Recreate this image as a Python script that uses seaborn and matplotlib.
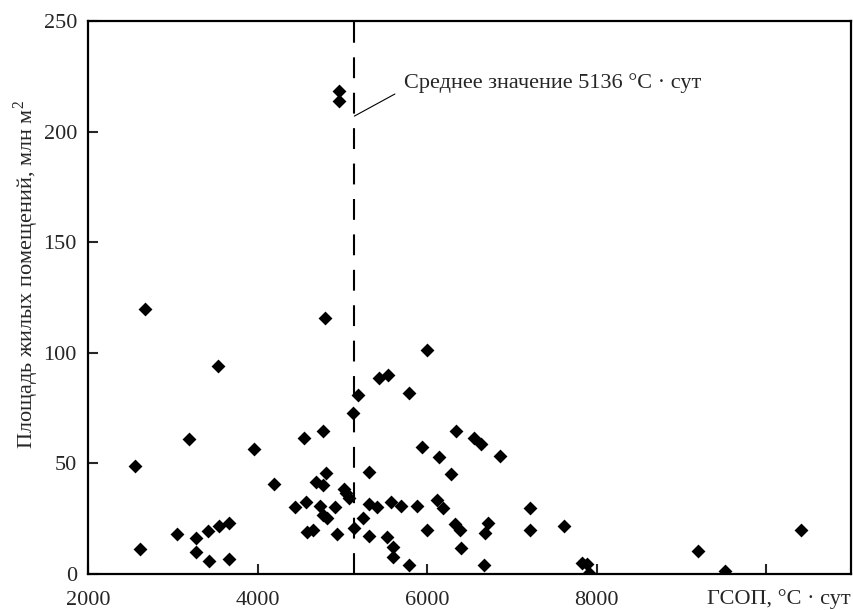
import numpy as np
import pandas as pd
import matplotlib
matplotlib.use('Agg')
import matplotlib.pyplot as plt
import seaborn as sns

# degree-days (x) vs residential floor area (y)
gsop = [2674, 4801, 5995, 3533, 5431, 5538, 5791, 5183, 5124, 6346,
        4774, 4545, 3197, 3962, 5936, 6141, 2552, 5318, 4805, 6287,
        4190, 4687, 4774, 5018, 5046, 5082, 4569, 4439, 4734, 4908,
        5318, 5412, 5578, 5696, 5877, 6122, 6193, 4774, 4822, 5247,
        3048, 3273, 3410, 3540, 3658, 4585, 4656, 4940, 5136, 5318,
        5531, 5593, 5593, 5786, 5995, 6330, 6389, 6405, 2615, 3277,
        3422, 3667, 6554, 6634, 6855, 6713, 6684, 7216, 7216, 7611,
        6673, 7824, 7887, 7907, 9195, 9509, 10416, 4959, 4959]
area = [119.8, 115.9, 101.3, 94.0, 88.5, 90.0, 81.7, 81.1, 72.9, 64.6,
        64.8, 61.3, 60.9, 56.5, 57.5, 53.0, 49.0, 46.2, 45.8, 45.1,
        40.7, 41.7, 40.1, 38.4, 36.5, 34.2, 32.7, 30.4, 30.7, 30.4,
        31.6, 30.2, 32.4, 30.9, 30.9, 33.5, 29.7, 26.7, 25.2, 25.5,
        18.1, 16.4, 19.6, 21.7, 22.9, 19.1, 19.9, 18.1, 20.7, 17.2,
        16.6, 12.3, 7.8, 4.1, 19.9, 22.5, 19.9, 11.6, 11.2, 9.8,
        5.9, 6.9, 61.3, 58.8, 53.5, 22.9, 18.4, 30.0, 19.9, 21.7,
        3.9, 4.8, 4.4, 0.6, 10.4, 1.4, 19.9, 218.4, 214.0]

mean_gsop = 5136
x_ticks = [2000, 4000, 6000, 8000, 10000]
x_ticklabels = ['2000', '4000', '6000', '8000', '']
y_ticks = [0, 50, 100, 150, 200, 250]

df = pd.DataFrame({'gsop': gsop, 'area': area})

sns.set_theme(style='ticks')
plt.rcParams['font.family'] = 'serif'
plt.rcParams['font.serif'] = ['Liberation Serif', 'DejaVu Serif']
plt.rcParams['mathtext.fontset'] = 'custom'
plt.rcParams['mathtext.rm'] = 'Liberation Serif'
plt.rcParams['font.size'] = 16

fig = plt.figure(figsize=(8.54, 6.1), dpi=100)
ax = fig.add_axes([88/854, 36/610, 763/854, 553/610])

sns.scatterplot(data=df, x='gsop', y='area', marker='D', color='black',
                s=50, linewidth=0, ax=ax, legend=False)

ax.axvline(mean_gsop, color='black', lw=1.5, dashes=(10, 7))
# leader line + caption for the mean
ax.plot([mean_gsop + 6, 5620], [207, 217], color='black', lw=0.8)
ax.text(5730, 222, 'Среднее значение 5136 °C · сут', fontsize=16,
        va='center', ha='left')

ax.set_xlim(2000, 11000)
ax.set_ylim(0, 250)
ax.set_xticks(x_ticks)
ax.set_xticklabels(x_ticklabels)
ax.set_yticks(y_ticks)
ax.tick_params(direction='in', length=7, width=1.5, labelsize=16)
ax.tick_params(axis='x', pad=12)
ax.tick_params(axis='y', pad=8)
for s in ax.spines.values():
    s.set_linewidth(1.6)
    s.set_color('black')

ax.set_ylabel('Площадь жилых помещений, млн м$^2$', fontsize=16)
ax.yaxis.set_label_coords(-0.081, 0.541)
ax.yaxis.label.set_va('center')
ax.set_xlabel('ГСОП, °C · сут', fontsize=16, loc='right')
ax.xaxis.set_label_coords(1.0, -0.045)
ax.xaxis.label.set_va('center')

fig.savefig('out.png', dpi=100)
